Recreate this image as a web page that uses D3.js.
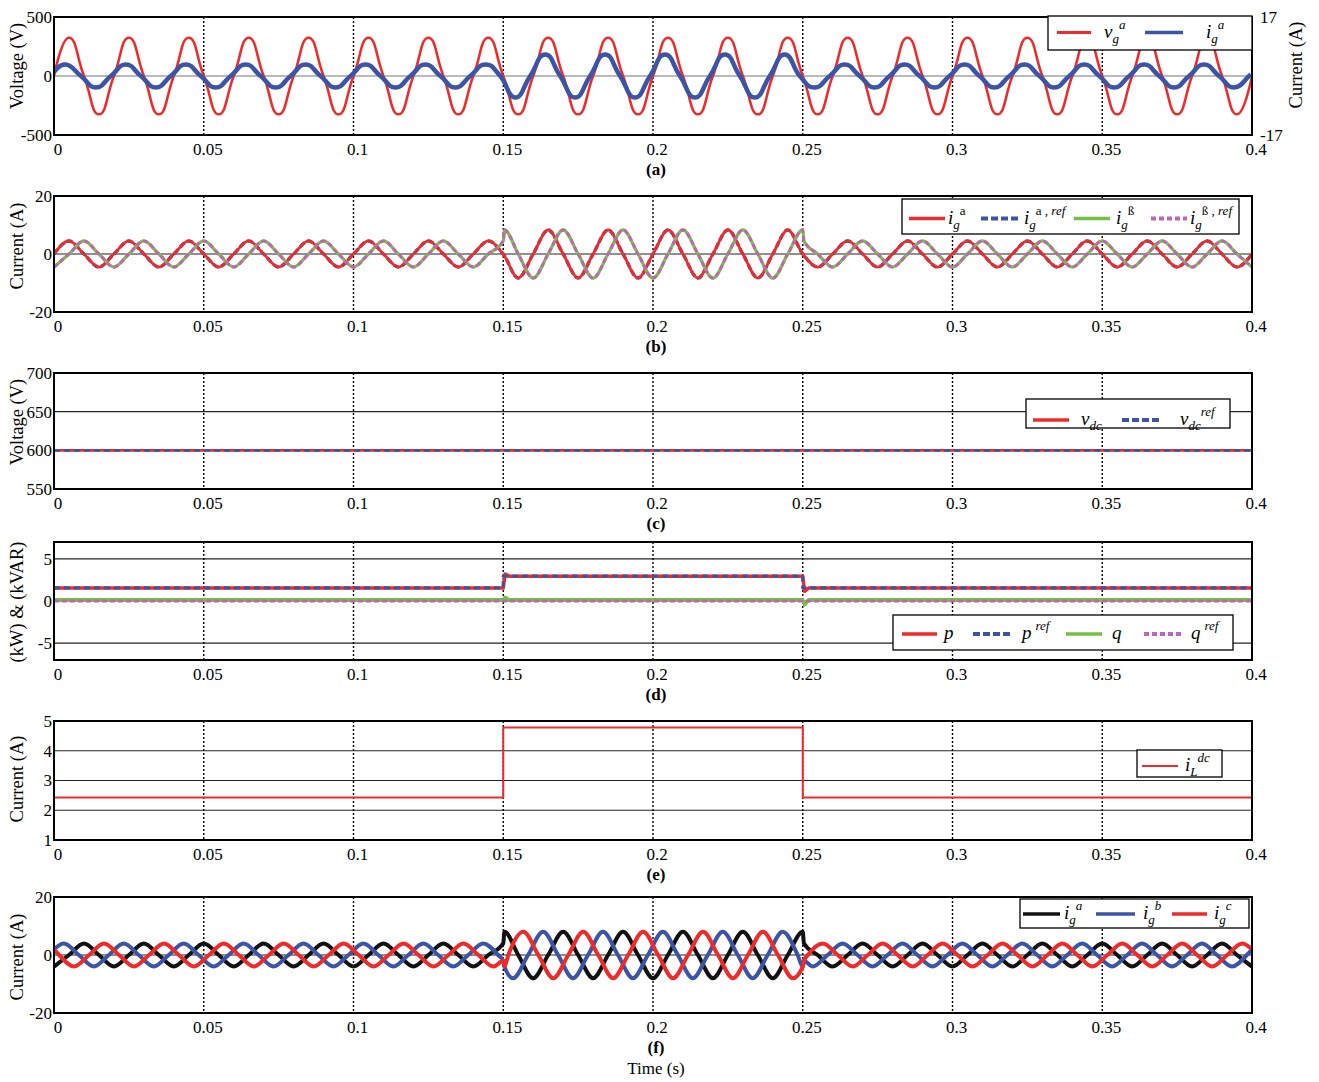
<!DOCTYPE html>
<html>
<head>
<meta charset="utf-8">
<script src="https://cdn.jsdelivr.net/npm/d3@7"></script>
<style>
body { margin: 0; background: #fff; }
svg { display: block; }
text { white-space: pre; }
</style>
</head>
<body>
<div id="chart"></div>
<script>
// time axis (ms) and its labels (s)
const xTicks = [0, 50, 100, 150, 200, 250, 300, 350, 400]
const xTickLabels = ["0", "0.05", "0.1", "0.15", "0.2", "0.25", "0.3", "0.35", "0.4"]

// y ticks per panel
const aTicks = [-500, 0, 500]
const aRightTicks = [-17, 17]
const bTicks = [-20, 0, 20]
const cTicks = [550, 600, 650, 700]
const dTicks = [-5, 0, 5]
const eTicks = [1, 2, 3, 4, 5]
const fTicks = [-20, 0, 20]

// sample instants (ms): zero crossings, peaks and the two load steps
const tQ0 = [0,5,10,15,20,25,30,35,40,45,50,55,60,65,70,75,80,85,90,95,100,105,110,115,120,125,130,135,140,145,
  150,155,160,165,170,175,180,185,190,195,200,205,210,215,220,225,230,235,240,245,
  250,255,260,265,270,275,280,285,290,295,300,305,310,315,320,325,330,335,340,345,350,355,360,365,370,375,380,385,390,395,400]
const tQ0j = [0,5,10,15,20,25,30,35,40,45,50,55,60,65,70,75,80,85,90,95,100,105,110,115,120,125,130,135,140,145,
  150,150.4,155,160,165,170,175,180,185,190,195,200,205,210,215,220,225,230,235,240,245,
  250,250.4,255,260,265,270,275,280,285,290,295,300,305,310,315,320,325,330,335,340,345,350,355,360,365,370,375,380,385,390,395,400]
const tQ1 = [0,3.3,8.3,13.3,18.3,23.3,28.3,33.3,38.3,43.3,48.3,53.3,58.3,63.3,68.3,73.3,78.3,83.3,88.3,93.3,98.3,
  103.3,108.3,113.3,118.3,123.3,128.3,133.3,138.3,143.3,148.3,150,150.4,
  153.3,158.3,163.3,168.3,173.3,178.3,183.3,188.3,193.3,198.3,203.3,208.3,213.3,218.3,223.3,228.3,233.3,238.3,243.3,248.3,250,250.4,
  253.3,258.3,263.3,268.3,273.3,278.3,283.3,288.3,293.3,298.3,303.3,308.3,313.3,318.3,323.3,328.3,333.3,338.3,343.3,348.3,
  353.3,358.3,363.3,368.3,373.3,378.3,383.3,388.3,393.3,398.3,400]
const tQ2 = [0,1.7,6.7,11.7,16.7,21.7,26.7,31.7,36.7,41.7,46.7,51.7,56.7,61.7,66.7,71.7,76.7,81.7,86.7,91.7,96.7,
  101.7,106.7,111.7,116.7,121.7,126.7,131.7,136.7,141.7,146.7,150,150.4,
  151.7,156.7,161.7,166.7,171.7,176.7,181.7,186.7,191.7,196.7,201.7,206.7,211.7,216.7,221.7,226.7,231.7,236.7,241.7,246.7,250,250.4,
  251.7,256.7,261.7,266.7,271.7,276.7,281.7,286.7,291.7,296.7,301.7,306.7,311.7,316.7,321.7,326.7,331.7,336.7,341.7,346.7,
  351.7,356.7,361.7,366.7,371.7,376.7,381.7,386.7,391.7,396.7,400]
const tQ3 = [0,4,9,14,19,24,29,34,39,44,49,54,59,64,69,74,79,84,89,94,99,104,109,114,119,124,129,134,139,144,149,
  154,159,164,169,174,179,184,189,194,199,204,209,214,219,224,229,234,239,244,249,
  254,259,264,269,274,279,284,289,294,299,304,309,314,319,324,329,334,339,344,349,354,359,364,369,374,379,384,389,394,399,400]

// (a) grid voltage (V) and grid current (A, right axis)
const vgV = [0,325,0,-325,0,325,0,-325,0,325,0,-325,0,325,0,-325,0,325,0,-325,
  0,325,0,-325,0,325,0,-325,0,325,0,-325,0,325,0,-325,0,325,0,-325,
  0,325,0,-325,0,325,0,-325,0,325,0,-325,0,325,0,-325,0,325,0,-325,
  0,325,0,-325,0,325,0,-325,0,325,0,-325,0,325,0,-325,0,325,0,-325,0]
const igV = [1.1,3.3,0,-3.3,0,3.3,0,-3.3,0,3.3,0,-3.3,0,3.3,0,-3.3,0,3.3,0,-3.3,0,3.3,0,-3.3,0,3.3,0,-3.3,0,3.3,0,
  -6.2,0,6.2,0,-6.2,0,6.2,0,-6.2,0,6.2,0,-6.2,0,6.2,0,-6.2,0,6.2,0,
  -3.3,0,3.3,0,-3.3,0,3.3,0,-3.3,0,3.3,0,-3.3,0,3.3,0,-3.3,0,3.3,0,-3.3,0,3.3,0,-3.3,0,3.3,0,-3.3,0,1.0]

// (b) alpha / beta currents (A)
const iaV = [0,4.5,0,-4.5,0,4.5,0,-4.5,0,4.5,0,-4.5,0,4.5,0,-4.5,0,4.5,0,-4.5,0,4.5,0,-4.5,0,4.5,0,-4.5,0,4.5,
  0,-8.3,0,8.3,0,-8.3,0,8.3,0,-8.3,0,8.3,0,-8.3,0,8.3,0,-8.3,0,8.3,0,
  -4.5,0,4.5,0,-4.5,0,4.5,0,-4.5,0,4.5,0,-4.5,0,4.5,0,-4.5,0,4.5,0,-4.5,0,4.5,0,-4.5,0,4.5,0,-4.5,0]
const ibV = [-4.5,0,4.5,0,-4.5,0,4.5,0,-4.5,0,4.5,0,-4.5,0,4.5,0,-4.5,0,4.5,0,-4.5,0,4.5,0,-4.5,0,4.5,0,-4.5,0,4.5,8.3,
  0,-8.3,0,8.3,0,-8.3,0,8.3,0,-8.3,0,8.3,0,-8.3,0,8.3,0,-8.3,0,8.3,4.5,
  0,-4.5,0,4.5,0,-4.5,0,4.5,0,-4.5,0,4.5,0,-4.5,0,4.5,0,-4.5,0,4.5,0,-4.5,0,4.5,0,-4.5,0,4.5,0,-4.5]

// (c) dc-link voltage (V)
const vdcT = [0, 400]
const vdcV = [600, 600]
const vdcRefT = [0, 400]
const vdcRefV = [600, 600]

// (d) active / reactive power (kW, kVAR)
const pT = [0, 150, 150.6, 152, 250, 250.6, 252, 400]
const pV = [1.55, 1.55, 3.2, 2.95, 2.95, 1.15, 1.55, 1.55]
const pRefT = [0, 150, 150, 250, 250, 400]
const pRefV = [1.55, 1.55, 2.95, 2.95, 1.55, 1.55]
const qT = [0, 150, 150.6, 152, 250, 250.6, 252, 400]
const qV = [0.15, 0.15, 0.45, 0.15, 0.15, -0.45, 0.15, 0.15]
const qRefT = [0, 400]
const qRefV = [0, 0]

// (e) dc load current (A)
const iLT = [0, 150, 150, 250, 250, 400]
const iLV = [2.43, 2.43, 4.78, 4.78, 2.43, 2.43]

// (f) three phase grid currents (A)
const fAV = [-4,0,4,0,-4,0,4,0,-4,0,4,0,-4,0,4,0,-4,0,4,0,-4,0,4,0,-4,0,4,0,-4,0,4,8,
  0,-8,0,8,0,-8,0,8,0,-8,0,8,0,-8,0,8,0,-8,0,8,4,
  0,-4,0,4,0,-4,0,4,0,-4,0,4,0,-4,0,4,0,-4,0,4,0,-4,0,4,0,-4,0,4,0,-4]
const fBV = [2,4,0,-4,0,4,0,-4,0,4,0,-4,0,4,0,-4,0,4,0,-4,0,4,0,-4,0,4,0,-4,0,4,0,-2,-4,
  -8,0,8,0,-8,0,8,0,-8,0,8,0,-8,0,8,0,-8,0,8,0,-4,-2,
  -4,0,4,0,-4,0,4,0,-4,0,4,0,-4,0,4,0,-4,0,4,0,-4,0,4,0,-4,0,4,0,-4,0,2]
const fCV = [2,0,-4,0,4,0,-4,0,4,0,-4,0,4,0,-4,0,4,0,-4,0,4,0,-4,0,4,0,-4,0,4,0,-4,-2,-4,
  0,8,0,-8,0,8,0,-8,0,8,0,-8,0,8,0,-8,0,8,0,-8,-4,-2,
  0,4,0,-4,0,4,0,-4,0,4,0,-4,0,4,0,-4,0,4,0,-4,0,4,0,-4,0,4,0,-4,0,4,2]

const serif = "'Liberation Serif', 'Times New Roman', serif"
const red = "#ee2a2a", blue = "#3b54a5", green = "#74c043", magenta = "#c263b5", black = "#111"

const svg = d3.select("#chart").append("svg").attr("width", 1319).attr("height", 1082)
const left = 54, right = 1252
const x = d3.scaleLinear().domain([0, 400]).range([left, right])

let clipId = 0
function makePanel(p) {
  const y = d3.scaleLinear().domain(p.domain).range([p.bottom, p.top])
  const g = svg.append("g")
  g.selectAll(".hg").data(p.ticks.filter(t => t > p.domain[0] && t < p.domain[1])).enter().append("line")
    .attr("x1", left).attr("x2", right).attr("y1", d => y(d)).attr("y2", d => y(d))
    .attr("stroke", p.gridColor || "#222").attr("stroke-width", 1.2)
  g.selectAll(".vg").data(xTicks.slice(1, -1)).enter().append("line")
    .attr("x1", d => x(d)).attr("x2", d => x(d)).attr("y1", p.top).attr("y2", p.bottom)
    .attr("stroke", "#000").attr("stroke-width", 1.4).attr("stroke-dasharray", "2,2")

  const xa = g.append("g").attr("transform", `translate(0,${p.bottom})`)
    .call(d3.axisBottom(x).tickValues(xTicks).tickFormat((d, i) => xTickLabels[i]).tickSize(0).tickPadding(8))
  xa.selectAll("text").attr("dx", 3.5)
  g.append("g").attr("transform", `translate(${left},0)`)
    .call(d3.axisLeft(y).tickValues(p.ticks).tickFormat(String).tickSize(0).tickPadding(2))
  g.selectAll(".domain").remove()
  g.selectAll(".tick text").attr("font-family", serif).attr("font-size", 17).attr("fill", "#000")

  g.append("text").attr("transform", `translate(17,${p.titleY}) rotate(-90)`).attr("dy", "0.35em")
    .attr("text-anchor", "middle").attr("font-family", serif).attr("font-size", 18.5).text(p.title)
  g.append("text").attr("x", 656).attr("y", p.bottom + 40).attr("text-anchor", "middle")
    .attr("font-family", serif).attr("font-size", 17).attr("font-weight", "bold").text(p.tag)

  const id = "clip" + (clipId++)
  svg.append("clipPath").attr("id", id).append("rect")
    .attr("x", left).attr("y", p.top).attr("width", right - left).attr("height", p.bottom - p.top)
  const plot = g.append("g").attr("clip-path", `url(#${id})`)
  return { g, y, plot, p }
}

function series(panel, y, times, values, s) {
  const pts = times.map((t, i) => [t, values[i]])
  panel.plot.append("path").datum(pts)
    .attr("d", d3.line().x(d => x(d[0])).y(d => y(d[1])).curve(s.curve || d3.curveLinear))
    .attr("fill", "none").attr("stroke", s.color).attr("stroke-width", s.width)
    .attr("stroke-dasharray", s.dash || null).attr("stroke-linejoin", "round")
}

function frame(panel) {
  const p = panel.p
  panel.g.append("rect").attr("x", left).attr("y", p.top).attr("width", right - left).attr("height", p.bottom - p.top)
    .attr("fill", "none").attr("stroke", "#000").attr("stroke-width", 2)
}

function richText(sel, x0, y0, parts) {
  const t = sel.append("text").attr("x", x0).attr("y", y0).attr("font-family", serif).attr("fill", "#000")
  let level = 0
  parts.forEach(q => {
    const shift = q.pos === "sub" ? 5 : q.pos === "sup" ? -9 : 0
    t.append("tspan").attr("dy", shift - level).attr("dx", q.dx || 0)
      .attr("font-size", q.pos ? 13 : 19)
      .attr("font-style", q.upright ? "normal" : "italic").text(q.s)
    level = shift
  })
}

function legend(panel, box, lineY, items) {
  const lg = panel.g.append("g")
  lg.append("rect").attr("x", box[0]).attr("y", box[1]).attr("width", box[2]).attr("height", box[3])
    .attr("fill", "#fff").attr("stroke", "#000").attr("stroke-width", 1.3)
  items.forEach(it => {
    lg.append("line").attr("x1", it.x1).attr("x2", it.x2).attr("y1", lineY).attr("y2", lineY)
      .attr("stroke", it.color).attr("stroke-width", it.width || 3.5).attr("stroke-dasharray", it.dash || null)
    richText(lg, it.tx, lineY + 5, it.parts)
  })
}

const cardinal = d3.curveCardinal.tension(-0.5)
const mono = d3.curveMonotoneX

// (a)
const pa = makePanel({ top: 17, bottom: 135, domain: [-500, 500], ticks: aTicks, title: "Voltage (V)", titleY: 66, tag: "(a)", gridColor: "#777" })
const yRight = d3.scaleLinear().domain([-17, 17]).range([135, 17])
const ra = pa.g.append("g").attr("transform", `translate(${right},0)`)
  .call(d3.axisRight(yRight).tickValues(aRightTicks).tickFormat(String).tickSize(0).tickPadding(8))
ra.select(".domain").remove()
ra.selectAll("text").attr("font-family", serif).attr("font-size", 17).attr("fill", "#000")
pa.g.append("text").attr("transform", `translate(1296,65) rotate(-90)`).attr("dy", "0.35em")
  .attr("text-anchor", "middle").attr("font-family", serif).attr("font-size", 18.5).text("Current (A)")
series(pa, pa.y, tQ0, vgV, { color: red, width: 2.5, curve: cardinal })
series(pa, yRight, tQ3, igV, { color: blue, width: 4.5, curve: cardinal })
frame(pa)
legend(pa, [1048, 16, 204, 34], 32.5, [
  { x1: 1057, x2: 1091, color: red, width: 3, tx: 1104, parts: [{ s: "v" }, { s: "g", pos: "sub" }, { s: "a", pos: "sup" }] },
  { x1: 1145, x2: 1183, color: blue, width: 3.5, tx: 1206, parts: [{ s: "i" }, { s: "g", pos: "sub" }, { s: "a", pos: "sup" }] }
])

// (b)
const pb = makePanel({ top: 196, bottom: 312, domain: [-20, 20], ticks: bTicks, title: "Current (A)", titleY: 246, tag: "(b)" })
series(pb, pb.y, tQ0, iaV, { color: blue, width: 3.4, dash: "6,3", curve: mono })
series(pb, pb.y, tQ0, iaV, { color: red, width: 2.8, curve: mono })
series(pb, pb.y, tQ0j, ibV, { color: green, width: 3.2, curve: mono })
series(pb, pb.y, tQ0j, ibV, { color: magenta, width: 3, dash: "5,3", curve: mono })
frame(pb)
legend(pb, [902, 199, 337, 35], 218.5, [
  { x1: 909, x2: 945, color: red, tx: 948, parts: [{ s: "i" }, { s: "g", pos: "sub" }, { s: "a", pos: "sup", upright: true }] },
  { x1: 981, x2: 1020, color: blue, width: 4, dash: "7,3", tx: 1024, parts: [{ s: "i" }, { s: "g", pos: "sub" }, { s: "a , ", pos: "sup", upright: true }, { s: "ref", pos: "sup" }] },
  { x1: 1074, x2: 1110, color: green, tx: 1116, parts: [{ s: "i" }, { s: "g", pos: "sub" }, { s: "ß", pos: "sup", upright: true }] },
  { x1: 1151, x2: 1187, color: magenta, width: 4, dash: "5,3", tx: 1190, parts: [{ s: "i" }, { s: "g", pos: "sub" }, { s: "ß , ", pos: "sup", upright: true }, { s: "ref", pos: "sup" }] }
])

// (c)
const pc = makePanel({ top: 373, bottom: 489, domain: [550, 700], ticks: cTicks, title: "Voltage (V)", titleY: 422, tag: "(c)" })
series(pc, pc.y, vdcT, vdcV, { color: red, width: 2.6 })
series(pc, pc.y, vdcRefT, vdcRefV, { color: blue, width: 2.6, dash: "6,4" })
frame(pc)
legend(pc, [1026, 399, 204, 29], 420, [
  { x1: 1033, x2: 1069, color: red, tx: 1081, parts: [{ s: "v" }, { s: "dc", pos: "sub" }] },
  { x1: 1122, x2: 1162, color: blue, width: 4, dash: "7,3", tx: 1180, parts: [{ s: "v" }, { s: "dc", pos: "sub" }, { s: "ref", pos: "sup" }] }
])

// (d)
const pd = makePanel({ top: 542, bottom: 660, domain: [-7, 7], ticks: dTicks, title: "(kW) & (kVAR)", titleY: 602, tag: "(d)" })
series(pd, pd.y, pT, pV, { color: red, width: 3.5 })
series(pd, pd.y, pRefT, pRefV, { color: blue, width: 3.2, dash: "6,4" })
series(pd, pd.y, qT, qV, { color: green, width: 3.5 })
series(pd, pd.y, qRefT, qRefV, { color: magenta, width: 3, dash: "5,3" })
frame(pd)
legend(pd, [893, 615, 340, 35], 634, [
  { x1: 902, x2: 937, color: red, tx: 944, parts: [{ s: "p" }] },
  { x1: 973, x2: 1013, color: blue, width: 4, dash: "7,3", tx: 1022, parts: [{ s: "p" }, { s: "ref", pos: "sup", dx: 4 }] },
  { x1: 1066, x2: 1102, color: green, tx: 1112, parts: [{ s: "q" }] },
  { x1: 1144, x2: 1183, color: magenta, width: 4, dash: "5,3", tx: 1191, parts: [{ s: "q" }, { s: "ref", pos: "sup", dx: 4 }] }
])

// (e)
const pe = makePanel({ top: 721, bottom: 840, domain: [1, 5], ticks: eTicks, title: "Current (A)", titleY: 779, tag: "(e)" })
series(pe, pe.y, iLT, iLV, { color: red, width: 2 })
frame(pe)
legend(pe, [1137, 750, 85, 27], 766, [
  { x1: 1142, x2: 1178, color: red, width: 2, tx: 1185, parts: [{ s: "i" }, { s: "L", pos: "sub" }, { s: "dc", pos: "sup" }] }
])

// (f)
const pf = makePanel({ top: 897, bottom: 1013, domain: [-20, 20], ticks: fTicks, title: "Current (A)", titleY: 957, tag: "(f)" })
series(pf, pf.y, tQ0j, fAV, { color: black, width: 4, curve: mono })
series(pf, pf.y, tQ1, fBV, { color: blue, width: 4, curve: mono })
series(pf, pf.y, tQ2, fCV, { color: red, width: 4, curve: mono })
frame(pf)
legend(pf, [1020, 899, 229, 29], 914, [
  { x1: 1023, x2: 1060, color: black, tx: 1064, parts: [{ s: "i" }, { s: "g", pos: "sub" }, { s: "a", pos: "sup" }] },
  { x1: 1096, x2: 1135, color: blue, tx: 1143, parts: [{ s: "i" }, { s: "g", pos: "sub" }, { s: "b", pos: "sup" }] },
  { x1: 1172, x2: 1207, color: red, tx: 1214, parts: [{ s: "i" }, { s: "g", pos: "sub" }, { s: "c", pos: "sup" }] }
])

svg.append("text").attr("x", 656).attr("y", 1074).attr("text-anchor", "middle")
  .attr("font-family", serif).attr("font-size", 17).text("Time (s)")
</script>
</body>
</html>
